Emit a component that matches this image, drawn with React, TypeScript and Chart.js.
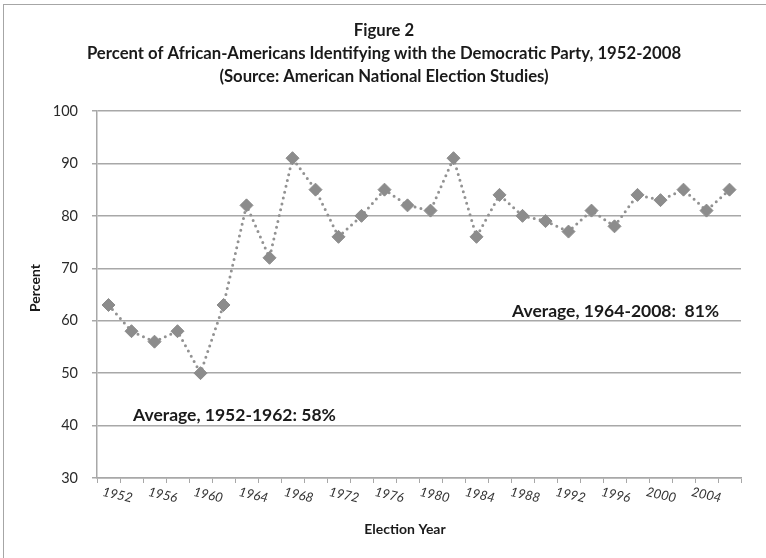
import React, { useEffect, useRef } from 'react';
import { Chart, registerables } from 'chart.js';

Chart.register(...registerables);

const years: string[] = [
  '1952', '1954', '1956', '1958', '1960', '1962', '1964', '1966', '1968', '1970',
  '1972', '1974', '1976', '1978', '1980', '1982', '1984', '1986', '1988', '1990',
  '1992', '1994', '1996', '1998', '2000', '2002', '2004', '2006',
];
const percentDemocratic: number[] = [
  63, 58, 56, 58, 50, 63, 82, 72, 91, 85,
  76, 80, 85, 82, 81, 91, 76, 84, 80, 79,
  77, 81, 78, 84, 83, 85, 81, 85,
];
const yMin = 30;
const yMax = 100;
const yStep = 10;
const titleLines: string[] = [
  'Figure 2',
  'Percent of African-Americans Identifying with the Democratic Party, 1952-2008',
  '(Source: American National Election Studies)',
];
const xTitle = 'Election Year';
const yTitle = 'Percent';
const noteEarly = 'Average, 1952-1962: 58%';
const noteLate = 'Average, 1964-2008:  81%';

const FONT = 'Lato, "Open Sans", "DejaVu Sans", sans-serif';
const GRID = '#a8a8a8';
const TEXT = '#1a1a1a';

const overlay = {
  id: 'overlay',
  beforeDraw(chart: any) {
    const ctx = chart.ctx;
    ctx.save();
    ctx.fillStyle = '#ffffff';
    ctx.fillRect(0, 0, chart.width, chart.height);
    ctx.restore();
  },
  afterDraw(chart: any) {
    const ctx = chart.ctx;
    const xs = chart.scales.x;
    ctx.save();
    // outer frame
    ctx.strokeStyle = '#a6a6a6';
    ctx.lineWidth = 1;
    ctx.strokeRect(3.5, 4.5, 1000, 1000);

    // titles
    ctx.fillStyle = TEXT;
    ctx.font = `bold 16.7px ${FONT}`;
    ctx.textAlign = 'center';
    ctx.textBaseline = 'alphabetic';
    titleLines.forEach((t, i) => ctx.fillText(t, 384, 36 + i * 23));

    // x tick labels (rotated, every other category)
    ctx.font = `italic 13px ${FONT}`;
    ctx.fillStyle = '#333333';
    let k = 0;
    years.forEach((yr, i) => {
      if (i % 2 !== 0) return;
      const px = xs.getPixelForValue(i) + 9 - 0.7 * k;
      k++;
      ctx.save();
      ctx.translate(px, 495);
      ctx.rotate((13 * Math.PI) / 180);
      ctx.textAlign = 'center';
      ctx.textBaseline = 'middle';
      ctx.fillText(yr, 0, 0);
      ctx.restore();
    });

    // axis titles
    ctx.fillStyle = TEXT;
    ctx.font = `bold 14px ${FONT}`;
    ctx.textAlign = 'center';
    ctx.textBaseline = 'middle';
    ctx.fillText(xTitle, 405, 529);
    ctx.save();
    ctx.translate(35, 288);
    ctx.rotate(-Math.PI / 2);
    ctx.fillText(yTitle, 0, 0);
    ctx.restore();

    // annotations
    ctx.font = `bold 17.5px ${FONT}`;
    ctx.textAlign = 'left';
    ctx.textBaseline = 'alphabetic';
    ctx.fillText(noteEarly, 133, 421);
    ctx.fillText(noteLate, 512, 316.5);
    ctx.restore();
  },
};

export default function App() {
  const ref = useRef<HTMLCanvasElement | null>(null);

  useEffect(() => {
    document.body.style.margin = '0';
    const canvas = ref.current;
    if (!canvas) return;
    const chart = new Chart(canvas, {
      type: 'line',
      data: {
        labels: years,
        datasets: [
          {
            data: percentDemocratic,
            borderColor: '#929292',
            borderWidth: 3,
            borderDash: [0, 6],
            borderCapStyle: 'round',
            fill: false,
            tension: 0,
            pointStyle: 'rectRot',
            pointRadius: 6.5,
            pointBackgroundColor: '#8c8c8c',
            pointBorderColor: '#8c8c8c',
            pointBorderWidth: 1,
          },
        ],
      },
      options: {
        responsive: false,
        animation: false,
        devicePixelRatio: 1,
        layout: { padding: { left: 0, top: 111, right: 25, bottom: 0 } },
        plugins: {
          legend: { display: false },
          title: { display: false },
          tooltip: { enabled: false },
        },
        scales: {
          x: {
            type: 'category',
            offset: true,
            grid: {
              offset: true,
              drawOnChartArea: false,
              drawTicks: true,
              tickLength: 5,
              color: GRID,
              lineWidth: 1,
            },
            border: { display: true, color: GRID, width: 1.5 },
            ticks: { display: false, autoSkip: false },
            afterFit: (s: any) => {
              s.height = 80;
            },
          },
          y: {
            min: yMin,
            max: yMax,
            ticks: {
              stepSize: yStep,
              font: { family: FONT, size: 14.5 },
              color: '#2a2a2a',
              padding: 14,
            },
            grid: { color: GRID, lineWidth: 1.5, tickLength: 5, drawTicks: true },
            border: { display: true, color: GRID, width: 1.5 },
            afterFit: (s: any) => {
              s.width = 97;
            },
          },
        },
      },
      plugins: [overlay],
    } as any);
    return () => chart.destroy();
  }, []);

  return (
    <div style={{ position: 'fixed', left: 0, top: 0, width: 766, height: 558 }}>
      <canvas ref={ref} width={766} height={558} />
    </div>
  );
}
